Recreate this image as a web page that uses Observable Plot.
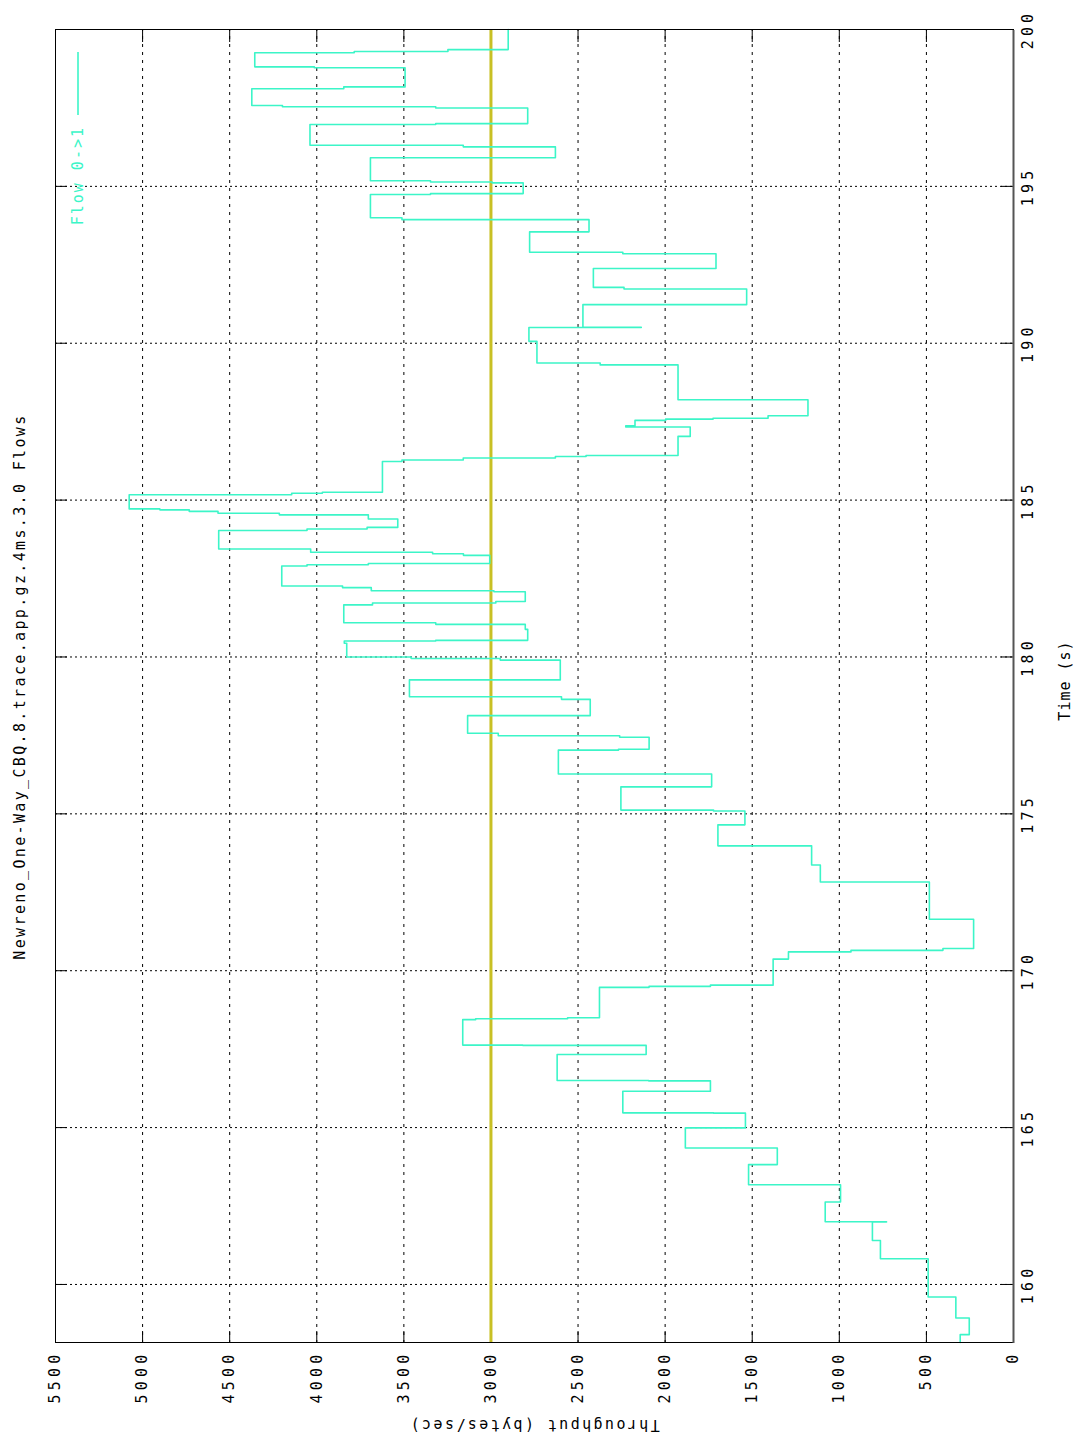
<!DOCTYPE html>
<html>
<head>
<meta charset="utf-8">
<script src="https://cdn.jsdelivr.net/npm/d3@7"></script>
<script src="https://cdn.jsdelivr.net/npm/@observablehq/plot@0.6"></script>
<style>
  html, body { margin: 0; padding: 0; background: #fff; width: 1079px; height: 1439px; overflow: hidden; }
  /* The chart is laid out landscape and turned a quarter turn counter-clockwise onto the portrait page. */
  #page { position: absolute; left: 0; top: 0; width: 1439px; height: 1079px;
          transform-origin: 0 0; transform: translate(0, 1439px) rotate(-90deg); }
  #page svg { display: block; }
  g[aria-label="x-axis tick label"] text, g[aria-label="y-axis tick label"] text { letter-spacing: 4.2px; }
</style>
</head>
<body>
<div id="page"></div>
<script>
// Throughput of flow 0->1, sampled as a step series (start time of each step, bytes/sec).
const times = [
  158.15, 158.40, 158.93, 159.60, 160.82, 161.40, 161.99, 162.00, 162.63, 163.18,
  163.82, 164.35, 164.99, 165.46, 165.47, 166.16, 166.49, 166.50, 167.33, 167.62,
  167.63, 168.44, 168.47, 168.50, 169.47, 169.50, 169.54, 170.37, 170.60, 170.65,
  170.71, 171.64, 172.83, 173.37, 173.98, 174.65, 175.09, 175.12, 175.86, 176.27,
  177.03, 177.06, 177.44, 177.49, 177.57, 178.13, 178.65, 178.73, 179.27, 179.90,
  179.95, 180.00, 180.44, 180.51, 180.53, 180.88, 181.04, 181.09, 181.66, 181.72,
  181.77, 182.08, 182.11, 182.21, 182.26, 182.90, 182.94, 182.98, 183.24, 183.29,
  183.34, 183.44, 184.03, 184.08, 184.13, 184.40, 184.53, 184.58, 184.64, 184.69,
  184.72, 185.17, 185.22, 185.25, 186.23, 186.28, 186.34, 186.39, 186.42, 187.03,
  187.33, 187.37, 187.54, 187.58, 187.61, 187.69, 188.20, 189.31, 189.37, 190.06,
  190.50, 190.51, 191.23, 191.73, 191.78, 192.38, 192.85, 192.90, 193.55, 193.94,
  194.00, 194.74, 194.77, 195.11, 195.14, 195.18, 195.91, 196.26, 196.31, 196.97,
  197.00, 197.50, 197.54, 197.58, 198.11, 198.17, 198.78, 198.81, 199.26, 199.30,
  199.36, 200.00
];
const throughput = [
  306, 254, 331, 490, 764, 810, 729, 1081, 993, 1521,
  1356, 1884, 1539, 1722, 2243, 1740, 2095, 2620, 2109, 2817,
  3162, 3088, 2560, 2377, 2092, 1740, 1380, 1292, 933, 405,
  229, 483, 1109, 1159, 1697, 1542, 1722, 2254, 1733, 2613,
  2268, 2092, 2261, 2958, 3134, 2430, 2595, 3468, 2602, 2947,
  3458, 3828, 3842, 3317, 2789, 2803, 3317, 3845, 3680, 2972,
  2803, 2983, 3687, 3852, 4201, 4056, 3704, 3007, 3158, 3335,
  4035, 4563, 4056, 3711, 3535, 3704, 4215, 4567, 4732, 4901,
  5077, 4144, 3968, 3623, 3511, 3159, 2630, 2454, 1926, 1856,
  2226, 2173, 1997, 1725, 1409, 1180, 1926, 2373, 2736, 2782,
  2137, 2472, 1532, 2236, 2412, 1708, 2243, 2778, 2437, 3511,
  3692, 3347, 2815, 2993, 3347, 3692, 2630, 3159, 4039, 3317,
  2789, 3317, 4197, 4373, 3845, 3493, 4014, 4356, 3785, 3247,
  2901, 2901
];
const timeTicks = [160, 165, 170, 175, 180, 185, 190, 195, 200];
const rateTicks = [0, 500, 1000, 1500, 2000, 2500, 3000, 3500, 4000, 4500, 5000, 5500];
const timeDomain = [158.15, 200];
const rateDomain = [0, 5500];
const referenceRate = [3000];

const chartTitle = "Newreno_One-Way_CBQ.8.trace.app.gz.4ms.3.0 Flows";
const xLabel = "Time (s)";
const yLabel = "Throughput (bytes/sec)";
const seriesName = "Flow 0->1";

const flow = times.map((t, i) => ({time: t, rate: throughput[i]}));

// Landscape geometry of the drawing.
const W = 1439, H = 1079;
const mL = 96, mR = 30, mT = 55, mB = 66;
const innerW = W - mL - mR, innerH = H - mT - mB;
const tickLen = 12;
const font = "'DejaVu Sans Mono', 'Liberation Mono', monospace";
const flowColor = "#3cf5c8";
const refColor = "#c8c024";

const chart = Plot.plot({
  width: W, height: H,
  marginLeft: mL, marginRight: mR, marginTop: mT, marginBottom: mB,
  style: {fontFamily: font, fontSize: "15px", background: "#fff", color: "#000", overflow: "visible"},
  x: {domain: timeDomain, ticks: timeTicks},
  y: {domain: rateDomain, ticks: rateTicks},
  marks: [
    // dotted grid
    Plot.gridX(timeTicks.filter(t => t < 200), {stroke: "#000", strokeOpacity: 1, strokeDasharray: "2,3"}),
    Plot.gridY(rateTicks.filter(v => v > 0 && v < 5500), {stroke: "#000", strokeOpacity: 1, strokeDasharray: "3,5"}),
    // inward tick marks on all four sides
    Plot.ruleX(timeTicks, {insetTop: innerH - tickLen, stroke: "#000"}),
    Plot.ruleX(timeTicks, {insetBottom: innerH - tickLen, stroke: "#000"}),
    Plot.ruleY(rateTicks, {insetRight: innerW - tickLen, stroke: "#000"}),
    Plot.ruleY(rateTicks, {insetLeft: innerW - tickLen, stroke: "#000"}),
    // reference throughput
    Plot.ruleY(referenceRate, {stroke: refColor, strokeWidth: 3}),
    // measured throughput
    Plot.line(flow, {x: "time", y: "rate", curve: "step-after", stroke: flowColor, strokeWidth: 1.6}),
    Plot.frame({stroke: "#000"}),
    Plot.ruleY([0], {stroke: "#555", strokeWidth: 2}),
    Plot.axisX({ticks: timeTicks, tickSize: 0, tickPadding: 9, label: null, tickFormat: d => String(d)}),
    Plot.axisY({ticks: rateTicks, tickSize: 0, tickPadding: 8, label: null, tickFormat: d => String(d)})
  ]
});

const svg = d3.select(chart);
const addText = (txt, x, y, opts = {}) => svg.append("text")
  .attr("x", x).attr("y", y)
  .attr("text-anchor", opts.anchor || "middle")
  .attr("dominant-baseline", "central")
  .attr("transform", opts.rotate ? `rotate(${opts.rotate},${x},${y})` : null)
  .style("font-family", font)
  .style("font-size", (opts.size || 15) + "px")
  .style("letter-spacing", (opts.spacing || 0) + "px")
  .attr("fill", opts.fill || "#000")
  .text(txt);

addText(chartTitle, mL + innerW / 2, 20, {spacing: 2.35});
addText(xLabel, mL + innerW / 2 + 6, 1065, {spacing: 1});
addText(yLabel, 14, mT + innerH / 2, {rotate: -90, spacing: 2.4});

// key: series name followed by a sample of the line
addText(seriesName, 1313, 78, {anchor: "end", spacing: 2, fill: flowColor});
svg.append("line")
  .attr("x1", 1324).attr("x2", 1387).attr("y1", 78).attr("y2", 78)
  .attr("stroke", flowColor).attr("stroke-width", 1.6);

document.getElementById("page").appendChild(chart);
</script>
</body>
</html>
